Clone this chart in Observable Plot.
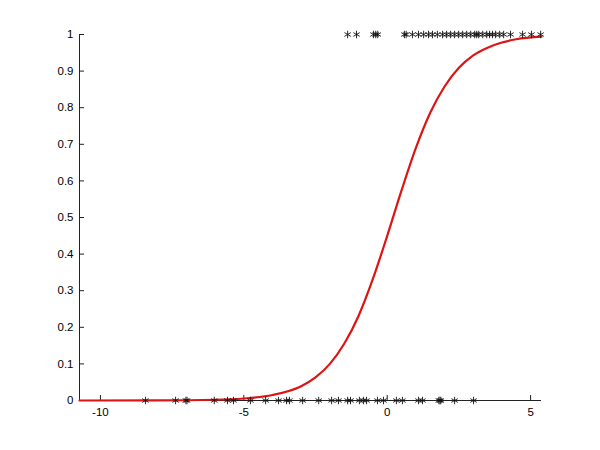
<!DOCTYPE html>
<html>
<head>
<meta charset="utf-8">
<script src="https://cdn.jsdelivr.net/npm/d3@7"></script>
<script src="https://cdn.jsdelivr.net/npm/@observablehq/plot@0.6"></script>
<style>
  html, body { margin: 0; padding: 0; background: #fff; }
  #chart { width: 600px; height: 450px; }
</style>
</head>
<body>
<div id="chart"></div>
<script>
// Observations with outcome 0 (bottom row)
const x0 = [-8.43, -7.38, -7.02, -6.98, -6.03, -5.57, -5.36, -4.77, -4.24, -3.79, -3.51, -3.41,
            -2.95, -2.39, -1.94, -1.70, -1.38, -1.28, -0.97, -0.83, -0.72, -0.34, -0.13,
            0.32, 0.53, 1.09, 1.23, 1.80, 1.84, 1.87, 2.35, 3.01];
// Observations with outcome 1 (top row)
const x1 = [-1.38, -1.07, -0.48, -0.40, -0.33, 0.60, 0.66, 0.88, 1.09, 1.27, 1.44, 1.58, 1.75,
            1.93, 2.07, 2.21, 2.35, 2.49, 2.63, 2.77, 2.91, 3.05, 3.12, 3.19, 3.33, 3.47, 3.57,
            3.67, 3.78, 3.92, 4.06, 4.30, 4.72, 5.03, 5.35];
// Fitted curve
const curveX = [-10.73, -8, -6, -5, -4, -3, -2.5, -2, -1.5, -1, -0.5, 0, 0.5, 1, 1.5, 2, 2.5, 3, 3.5, 4, 4.5, 5.38];
const curveY = [0.0000, 0.0003, 0.002, 0.0055, 0.015, 0.039, 0.063, 0.100, 0.155, 0.231, 0.332, 0.450,
                0.574, 0.690, 0.786, 0.858, 0.909, 0.943, 0.964, 0.978, 0.987, 0.994];
const xTicks = [-10, -5, 0, 5];
const yTicks = [0, 0.1, 0.2, 0.3, 0.4, 0.5, 0.6, 0.7, 0.8, 0.9, 1];
const xDomain = [-10.73, 5.38];
const yDomain = [0, 1];

const curve = curveX.map((x, i) => ({x, y: curveY[i]}));
const points = [
  ...x0.map(x => ({x, y: 0})),
  ...x1.map(x => ({x, y: 1}))
];

const chart = Plot.plot({
  width: 600,
  height: 450,
  marginLeft: 79,
  marginRight: 59,
  marginTop: 34,
  marginBottom: 50,
  style: {fontFamily: "Liberation Sans, Arial, sans-serif", fontSize: "11.5px", color: "#000", background: "#fff"},
  x: {domain: xDomain},
  y: {domain: yDomain},
  marks: [
    Plot.ruleY([yDomain[0]], {stroke: "#222", strokeWidth: 1}),
    Plot.ruleX([xDomain[0]], {stroke: "#222", strokeWidth: 1}),
    Plot.axisX(xTicks, {tickSize: -5, tickPadding: 12, label: null, tickFormat: d => String(d), stroke: "#222", fill: "#000"}),
    Plot.axisY(yTicks, {tickSize: -5, tickPadding: 11, label: null, tickFormat: d => String(d), stroke: "#222", fill: "#000"}),
    Plot.line(curve, {x: "x", y: "y", stroke: "#dc1414", strokeWidth: 2.2, curve: "monotone-x"}),
    Plot.dot(points, {x: "x", y: "y", symbol: "asterisk", r: 3.5, stroke: "#111", strokeWidth: 0.9})
  ]
});
document.getElementById("chart").appendChild(chart);
</script>
</body>
</html>
